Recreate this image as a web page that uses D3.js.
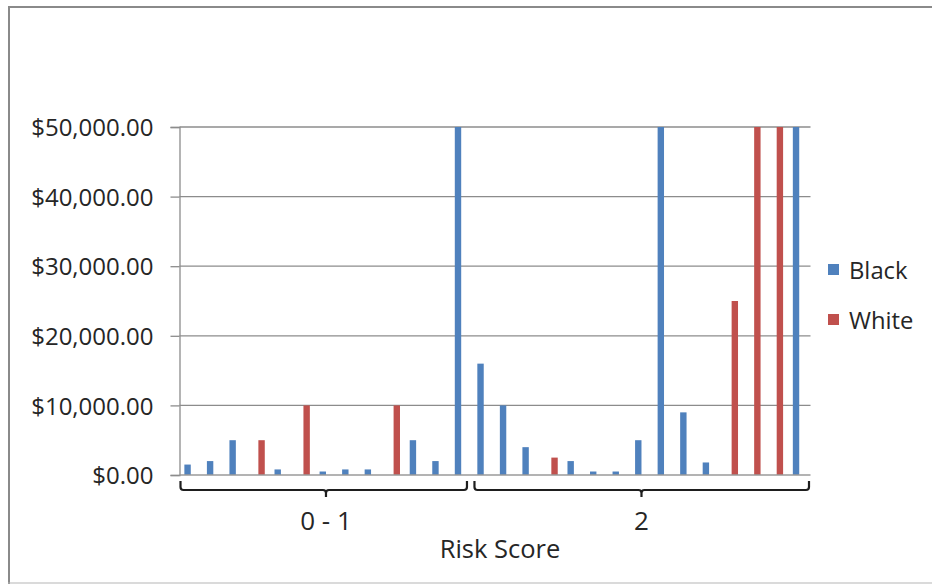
<!DOCTYPE html>
<html>
<head>
<meta charset="utf-8">
<script src="https://cdn.jsdelivr.net/npm/d3@7"></script>
<style>
  html, body { margin: 0; padding: 0; background: #fff; }
  svg { display: block; }
  text { font-family: "Open Sans", "Noto Sans", sans-serif; fill: #262626; }
</style>
</head>
<body>
<svg id="chart" width="932" height="584"></svg>
<script>
// Risk score groups and how many cases fall into each
const groups = ["0 - 1", "2"];
const groupSizes = [13, 15];

// Bail amount per case (null = case belongs to the other series)
const black = [1500, 2000, 5000, null, 800, null, 500, 800, 800, null, 5000, 2000, 50000,
               16000, 10000, 4000, null, 2000, 500, 500, 5000, 50000, 9000, 1800, null, null, null, 50000];
const white = [null, null, null, 5000, null, 10000, null, null, null, 10000, null, null, null,
               null, null, null, 2500, null, null, null, null, null, null, null, 25000, 50000, 50000, null];

const seriesNames = ["Black", "White"];
const seriesColors = ["#4F81BD", "#C0504D"];
const yTicks = [0, 10000, 20000, 30000, 40000, 50000];

const svg = d3.select("#chart");
const W = 932, H = 584;

// Chart frame
svg.append("line").attr("x1", 9).attr("x2", 9).attr("y1", 6).attr("y2", H)
  .attr("stroke", "#8a8a8a").attr("stroke-width", 2);
svg.append("line").attr("x1", 8).attr("x2", W).attr("y1", 7).attr("y2", 7)
  .attr("stroke", "#8a8a8a").attr("stroke-width", 2);
svg.append("line").attr("x1", 8).attr("x2", W).attr("y1", 583).attr("y2", 583)
  .attr("stroke", "#b5b5b5").attr("stroke-width", 1);

const plot = { left: 179.5, right: 810.5, top: 127, bottom: 475 };

const cases = d3.range(black.length);
const x0 = d3.scaleBand().domain(cases).range([plot.left, plot.right]).padding(0);
const barW = 6.4;
const x1 = d3.scaleBand().domain(seriesNames)
  .range([(x0.bandwidth() - 2 * barW) / 2, (x0.bandwidth() + 2 * barW) / 2]).padding(0);
const y = d3.scaleLinear().domain([0, 50000]).range([plot.bottom, plot.top]);

// Horizontal gridlines
svg.append("g").selectAll("line").data(yTicks.filter(d => d > 0)).join("line")
  .attr("x1", plot.left).attr("x2", plot.right)
  .attr("y1", d => y(d)).attr("y2", d => y(d))
  .attr("stroke", "#8c8c8c").attr("stroke-width", 1.3);

// Value axis
const yAxis = d3.axisLeft(y).tickValues(yTicks).tickSize(9).tickPadding(17)
  .tickFormat(d => "$" + d3.format(",.2f")(d));
const gy = svg.append("g").attr("transform", `translate(${plot.left},0)`).call(yAxis);
gy.select(".domain").attr("stroke", "#8c8c8c").attr("stroke-width", 1.3);
gy.selectAll(".tick line").attr("stroke", "#8c8c8c").attr("stroke-width", 1.3);
gy.selectAll(".tick text").attr("font-size", 24).attr("fill", "#262626")
  .attr("font-family", "'Open Sans', sans-serif").attr("dy", "0.36em");

// Bars
const rows = cases.map(i => ({ i, values: [black[i], white[i]] }));
const gBars = svg.append("g");
seriesNames.forEach((name, s) => {
  gBars.append("g").attr("fill", seriesColors[s]).selectAll("rect")
    .data(rows.filter(r => r.values[s] != null)).join("rect")
    .attr("x", r => x0(r.i) + x1(name))
    .attr("width", x1.bandwidth())
    .attr("y", r => y(r.values[s]))
    .attr("height", r => y(0) - y(r.values[s]));
});

// Category axis line
svg.append("line").attr("x1", plot.left).attr("x2", plot.right)
  .attr("y1", plot.bottom).attr("y2", plot.bottom)
  .attr("stroke", "#9a9a9a").attr("stroke-width", 1.6);

// Group brackets and group labels
let start = 0;
const gGroups = svg.append("g");
groups.forEach((g, k) => {
  const a = x0(start);
  const b = x0(start + groupSizes[k] - 1) + x0.bandwidth();
  const l = a + (k === 0 ? 1 : 2);
  const r = b - (k === groups.length - 1 ? 1.5 : 5.5);
  const c = (a + b) / 2;
  const top = 481, base = 490, tip = 497, rad = 3;
  const p = d3.path();
  p.moveTo(l, top);
  p.lineTo(l, base - rad);
  p.quadraticCurveTo(l, base, l + rad, base);
  p.lineTo(c - rad, base);
  p.quadraticCurveTo(c, base, c, base + rad);
  p.lineTo(c, tip);
  p.moveTo(c, base + rad);
  p.quadraticCurveTo(c, base, c + rad, base);
  p.lineTo(r - rad, base);
  p.quadraticCurveTo(r, base, r, base - rad);
  p.lineTo(r, top);
  gGroups.append("path").attr("d", p.toString())
    .attr("fill", "none").attr("stroke", "#1e1e1e").attr("stroke-width", 2.2);
  gGroups.append("text").attr("x", c).attr("y", 530)
    .attr("text-anchor", "middle").attr("font-size", 26).text(g);
  start += groupSizes[k];
});

// Axis title
svg.append("text").attr("x", 500).attr("y", 558).attr("text-anchor", "middle")
  .attr("font-size", 25.5).text("Risk Score");

// Legend
const legend = svg.append("g").attr("transform", "translate(828,264)");
seriesNames.forEach((name, s) => {
  const row = legend.append("g").attr("transform", `translate(0,${s * 50})`);
  row.append("rect").attr("width", 11).attr("height", 11).attr("fill", seriesColors[s]);
  row.append("text").attr("x", 21).attr("y", 14.5).attr("font-size", 23.8).text(name);
});
</script>
</body>
</html>
